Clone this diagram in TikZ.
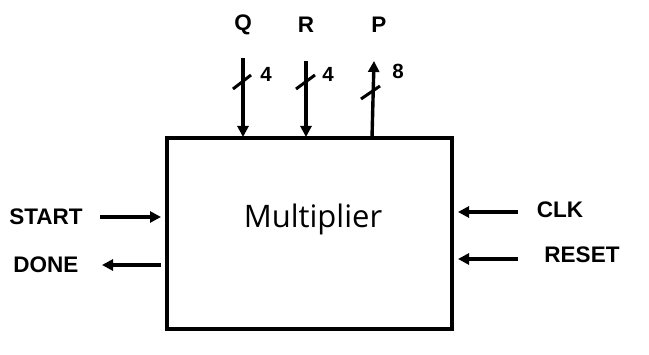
\documentclass[tikz,border=0pt]{standalone}
\usepackage{fontspec}
\setmainfont{Liberation Sans}
\newfontfamily\boxfont{Open Sans}
\usetikzlibrary{arrows.meta}
\begin{document}
\begin{tikzpicture}[x=1pt,y=-1pt,
  lbl/.style={inner sep=0pt,font=\bfseries\fontsize{22.5}{26}\selectfont},
  num/.style={inner sep=0pt,font=\bfseries\fontsize{20.5}{24}\selectfont},
  wire/.style={line width=3.4pt,-{Triangle[length=11pt,width=11pt]}},
  busmark/.style={line width=3pt}]
\useasboundingbox (0,0) rectangle (649,355);
\fill[white] (0,0) rectangle (649,355);
\node[draw,line width=3.6pt,minimum width=285pt,minimum height=191pt,inner sep=0pt] (box) at (309.5,233.5) {};
\node[inner sep=0pt,anchor=base,font=\boxfont\fontsize{31}{36}\selectfont] (title) at (313,228) {Multiplier};
% top labels
\node[lbl] (q) at (243,25) {Q};
\node[lbl] (r) at (306,25) {R};
\node[lbl] (p) at (379,25) {P};
\coordinate (qs) at (243,58);
\coordinate (qe) at (243,137);
\coordinate (rs) at (306,61);
\coordinate (re) at (306,137);
\coordinate (ps) at (372,138);
\coordinate (pe) at (374,61);
\draw[wire] (qs) -- (qe);
\draw[wire] (rs) -- (re);
\draw[wire] (ps) -- (pe);
\coordinate (qm1) at (233,89); \coordinate (qm2) at (251,75);
\coordinate (rm1) at (296,89); \coordinate (rm2) at (315,75);
\coordinate (pm1) at (361,99); \coordinate (pm2) at (380,86);
\draw[busmark] (qm1) -- (qm2);
\draw[busmark] (rm1) -- (rm2);
\draw[busmark] (pm1) -- (pm2);
\node[num] (qn) at (266,74) {4};
\node[num] (rn) at (328,74) {4};
\node[num] (pn) at (398,71) {8};
% left
\node[lbl] (start) at (46,217) {START};
\node[lbl] (done) at (46,265) {DONE};
\coordinate (st1) at (100,217);
\coordinate (st2) at (161,217);
\coordinate (dn1) at (161,265);
\coordinate (dn2) at (102,265);
\draw[wire] (st1) -- (st2);
\draw[wire] (dn1) -- (dn2);
% right
\node[lbl] (clk) at (560,210) {CLK};
\node[lbl] (reset) at (582,255) {RESET};
\coordinate (ck1) at (518,212);
\coordinate (ck2) at (458,212);
\coordinate (rs1) at (518,259);
\coordinate (rs2) at (458,259);
\draw[wire] (ck1) -- (ck2);
\draw[wire] (rs1) -- (rs2);
\end{tikzpicture}
\end{document}
